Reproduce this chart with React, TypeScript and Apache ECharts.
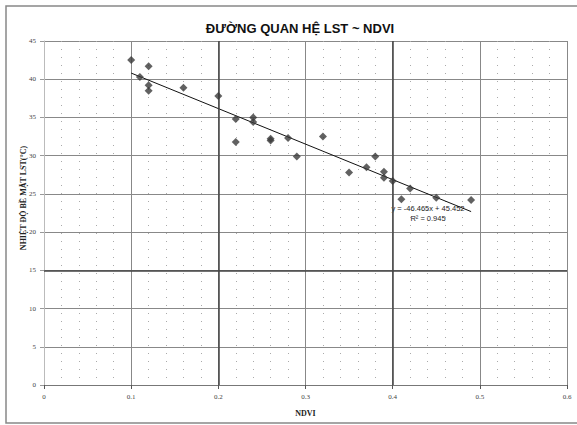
import React, { useEffect, useRef } from "react";
import * as echarts from "echarts";

const ndvi = [0.1, 0.11, 0.12, 0.12, 0.12, 0.16, 0.2, 0.22, 0.22, 0.24, 0.24, 0.26, 0.26, 0.28, 0.29, 0.32, 0.35, 0.37, 0.38, 0.39, 0.39, 0.4, 0.41, 0.42, 0.45, 0.49];
const lst = [42.5, 40.3, 41.7, 39.2, 38.5, 38.9, 37.8, 34.8, 31.8, 35.0, 34.4, 32.0, 32.2, 32.3, 29.9, 32.5, 27.8, 28.5, 29.9, 27.9, 27.1, 26.7, 24.3, 25.7, 24.5, 24.2];
const slope = -46.465;
const intercept = 45.452;
const trendX = [0.1, 0.49];
const xTicks = [0, 0.1, 0.2, 0.3, 0.4, 0.5, 0.6];
const yTicks = [0, 5, 10, 15, 20, 25, 30, 35, 40, 45];
const title = "ĐƯỜNG QUAN HỆ LST ~ NDVI";
const xName = "NDVI";
const yName = "NHIỆT ĐỘ BỀ MẶT LST(°C)";
const eqText = "y = -46.465x + 45.452";
const r2Text = "R² = 0.945";

export default function App() {
  const ref = useRef<HTMLDivElement>(null);
  useEffect(() => {
    if (!ref.current) return;
    const chart = echarts.init(ref.current, null, { renderer: "svg" });
    const points = ndvi.map((x, i) => [x, lst[i]]);
    const trend = trendX.map((x) => [x, slope * x + intercept]);
    const serif = "Liberation Serif";
    chart.setOption({
      animation: false,
      backgroundColor: "#fff",
      title: {
        text: title,
        left: 295,
        top: 17,
        textAlign: "center",
        textStyle: { fontFamily: "Liberation Sans", fontWeight: "bold", fontSize: 13, color: "#111" },
      },
      graphic: [
        {
          type: "rect",
          shape: { x: 6, y: 6, width: 580, height: 417 },
          style: { fill: "none", stroke: "#888", lineWidth: 1.5 },
          silent: true,
        },
        {
          type: "text",
          x: 23,
          y: 198,
          rotation: Math.PI / 2,
          style: {
            text: yName,
            fontFamily: serif,
            fontWeight: "bold",
            fontSize: 8,
            fill: "#222",
            align: "center",
            verticalAlign: "middle",
          },
        },
        {
          type: "text",
          x: 428,
          y: 208,
          style: { text: eqText, fontFamily: "Liberation Sans", fontSize: 7.5, fill: "#222", align: "center", verticalAlign: "middle" },
        },
        {
          type: "text",
          x: 428,
          y: 218,
          style: { text: r2Text, fontFamily: "Liberation Sans", fontSize: 7.5, fill: "#222", align: "center", verticalAlign: "middle" },
        },
      ],
      grid: { left: 44, right: 10, top: 41, bottom: 40 },
      xAxis: {
        type: "value",
        min: xTicks[0],
        max: xTicks[xTicks.length - 1],
        interval: 0.1,
        name: xName,
        nameLocation: "middle",
        nameGap: 24,
        nameTextStyle: { fontFamily: serif, fontWeight: "bold", fontSize: 8, color: "#222" },
        axisLine: { show: true, lineStyle: { color: "#777", width: 1 } },
        axisTick: { show: true, length: 4, lineStyle: { color: "#555" } },
        axisLabel: { fontFamily: serif, fontSize: 7, color: "#444", margin: 8 },
        splitLine: { show: true, lineStyle: { color: "#888", width: 1 } },
        minorTick: { show: false, splitNumber: 5 },
        minorSplitLine: { show: true, lineStyle: { color: "#aaa", width: 1, type: [1, 7] } },
      },
      yAxis: {
        type: "value",
        min: yTicks[0],
        max: yTicks[yTicks.length - 1],
        interval: 5,
        axisLine: { show: true, lineStyle: { color: "#bbb", width: 1 } },
        axisTick: { show: true, length: 4, lineStyle: { color: "#999" } },
        axisLabel: { fontFamily: serif, fontSize: 7, color: "#444", margin: 8 },
        splitLine: { show: true, lineStyle: { color: "#888", width: 1 } },
      },
      series: [
        {
          type: "scatter",
          data: points,
          symbol: "diamond",
          symbolSize: 8,
          itemStyle: { color: "#3a3a3a" },
          z: 5,
          markLine: {
            silent: true,
            symbol: "none",
            label: { show: false },
            lineStyle: { color: "#444", width: 1.5, type: "solid" },
            data: [{ xAxis: 0.2 }, { xAxis: 0.4 }, { yAxis: 15 }],
          },
        },
        {
          type: "line",
          data: trend,
          showSymbol: false,
          symbol: "none",
          lineStyle: { color: "#111", width: 1 },
          z: 4,
        },
      ],
    });
    return () => chart.dispose();
  }, []);
  return <div ref={ref} style={{ width: 577, height: 425, position: "absolute", left: 0, top: 0 }} />;
}
